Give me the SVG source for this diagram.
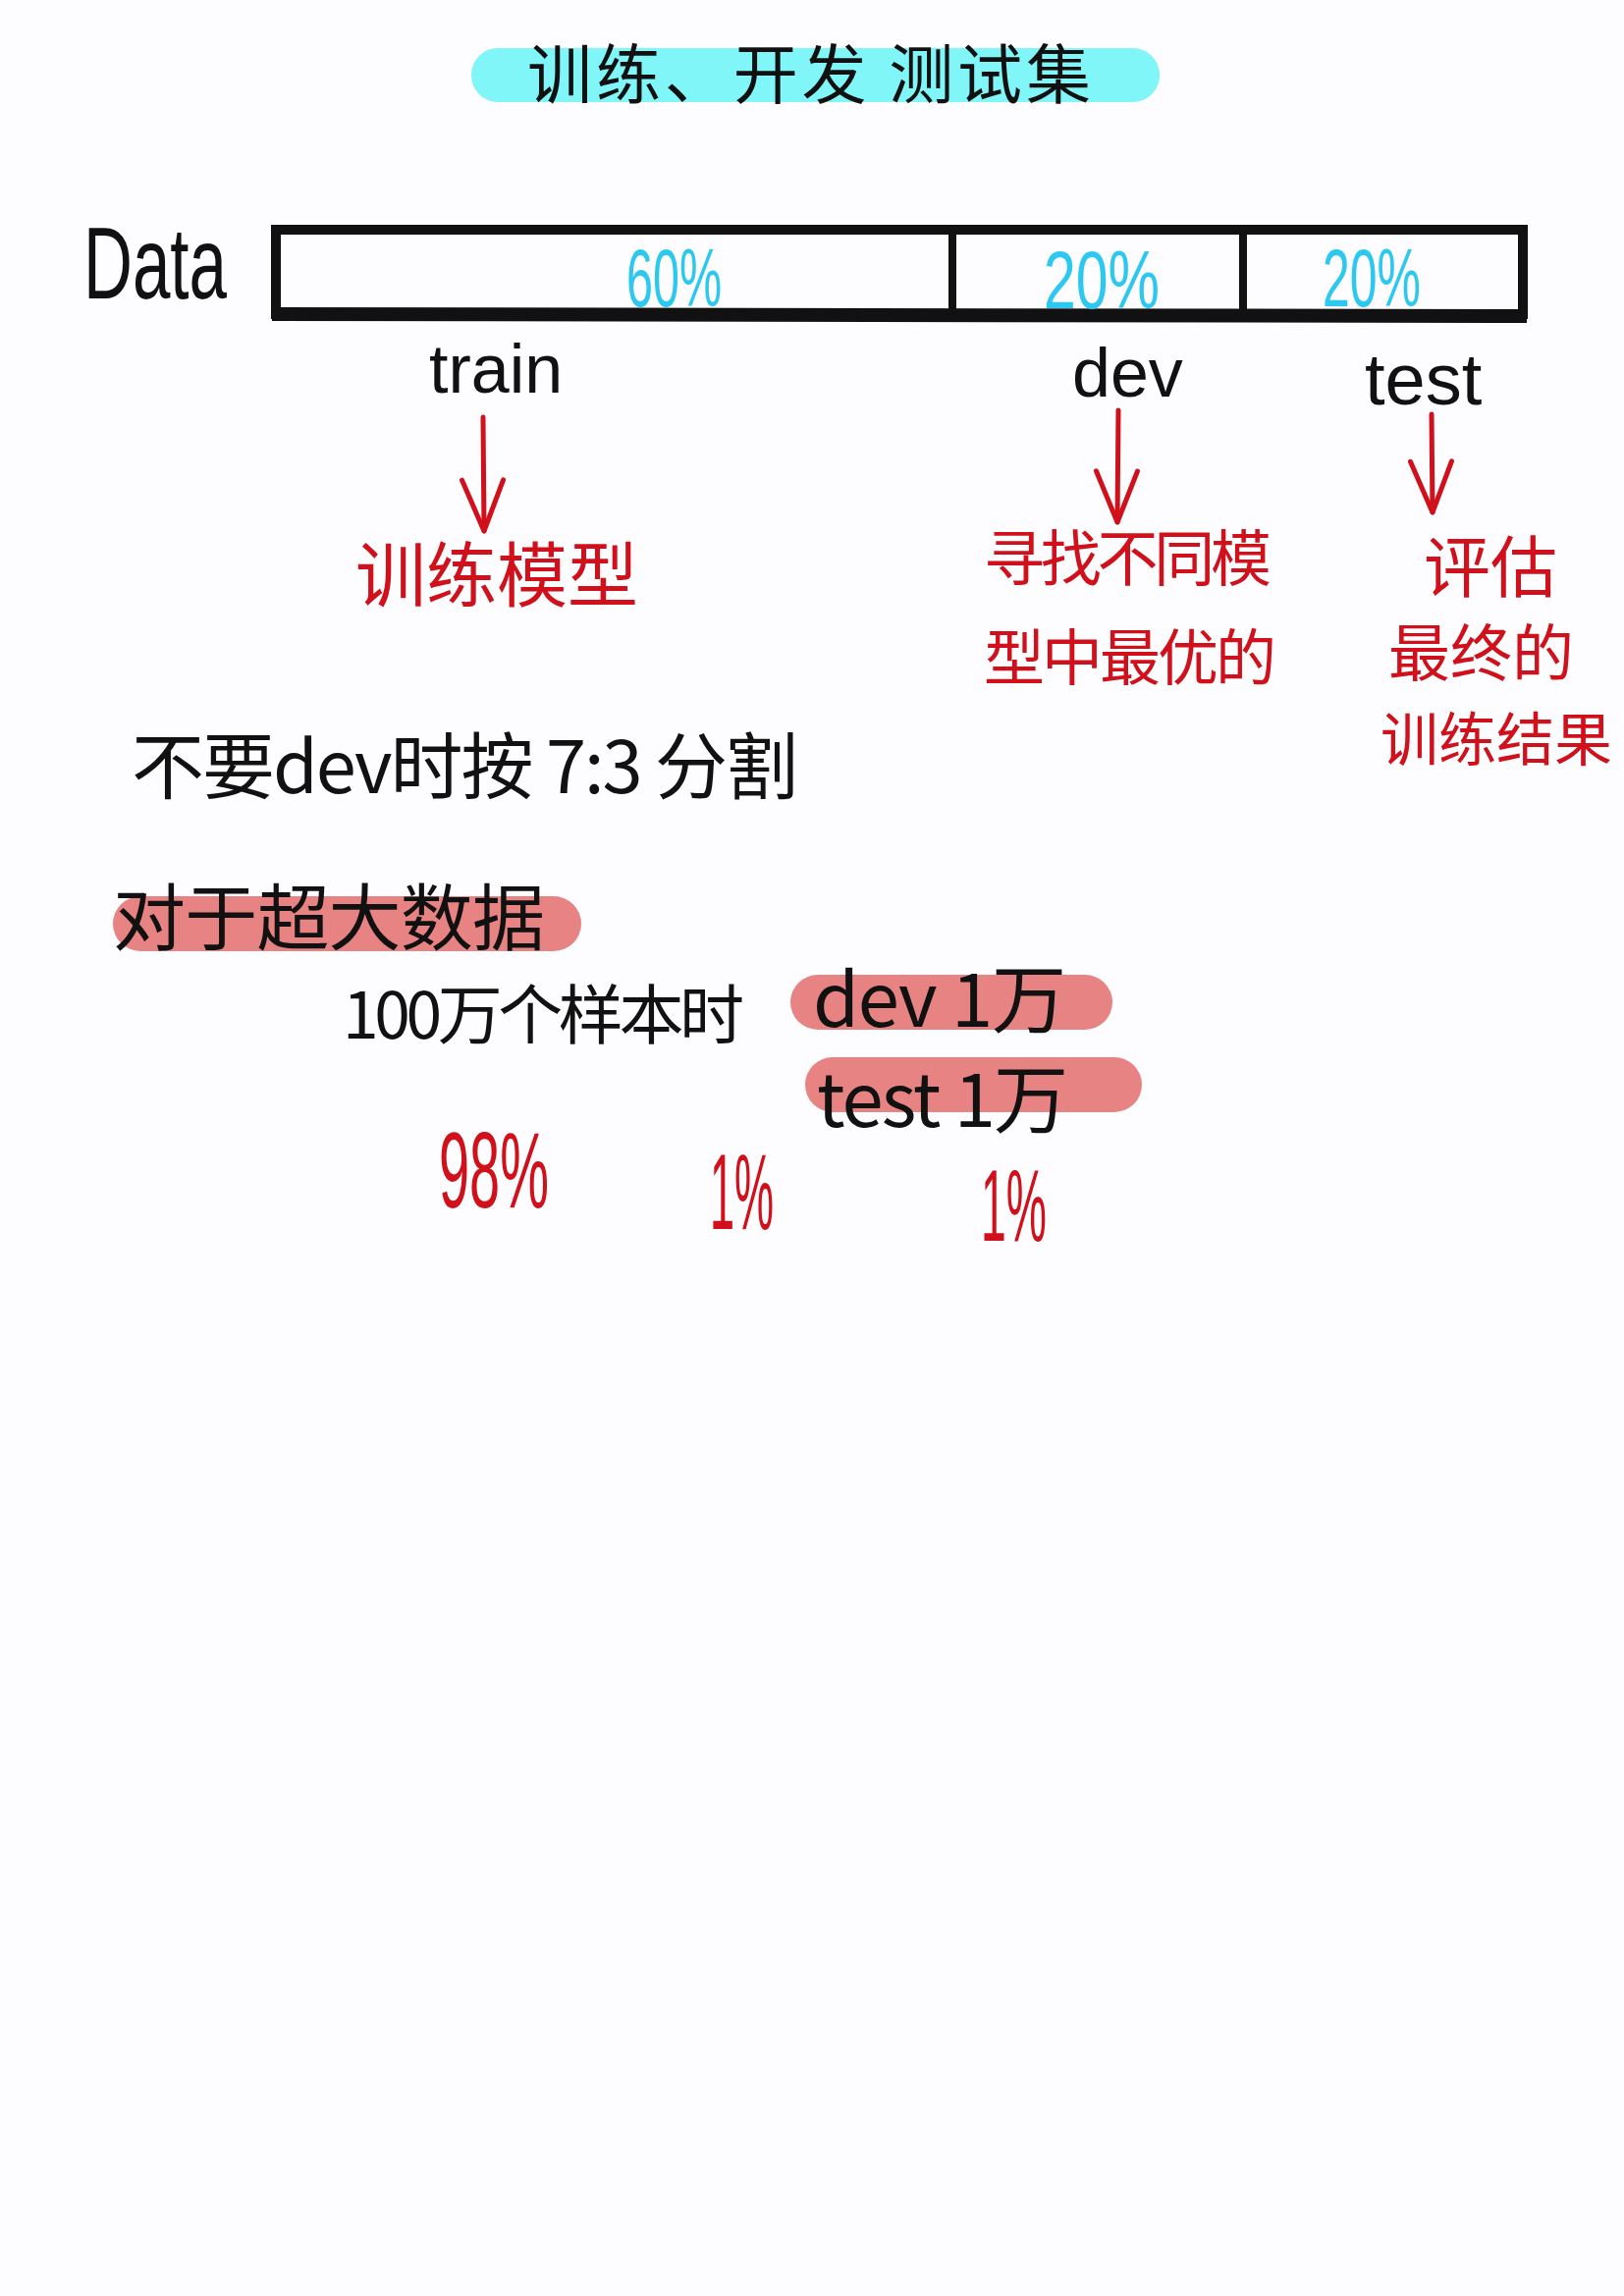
<svg xmlns="http://www.w3.org/2000/svg" width="1654" height="2339" viewBox="0 0 1654 2339">
<style>
.ink{fill:#111;font-family:"Liberation Sans","Noto Sans CJK SC",sans-serif}
.cjk{fill:#111;font-family:"Noto Sans CJK SC","Liberation Sans",sans-serif}
.red{fill:#d0101a;font-family:"Noto Sans CJK SC","Liberation Sans",sans-serif}
.blue{fill:#2cc8f0;font-family:"Liberation Sans",sans-serif}
.hl-cyan{fill:#80f6f8}
.hl-pink{fill:#e88383}
.arrow{stroke:#d0101a;stroke-width:5;fill:none;stroke-linecap:round;marker-end:url(#chev)}
</style>
<defs>
<marker id="chev" markerUnits="userSpaceOnUse" viewBox="-60 -30 70 60" refX="0" refY="0" markerWidth="70" markerHeight="60" orient="auto" overflow="visible">
<path d="M-52,-20 L0,0 L-52,22" fill="none" stroke="#d0101a" stroke-width="5" stroke-linecap="round" stroke-linejoin="round"/>
</marker>
</defs>
<rect x="0" y="0" width="1654" height="2339" fill="#fdfdff"/>

<g id="title">
<rect class="hl-cyan" x="480" y="49" width="701" height="55" rx="27"/>
<text class="cjk" x="537" y="100" font-size="66" textLength="574">训练、开发 测试集</text>
</g>

<g id="data-label">
<text class="ink" x="85" y="304" font-size="104" textLength="146" lengthAdjust="spacingAndGlyphs">Data</text>
</g>

<g id="data-bar">
<rect x="281" y="234" width="1270" height="86" fill="none" stroke="#111" stroke-width="10"/>
<line x1="277" y1="320" x2="1555" y2="322" stroke="#111" stroke-width="14"/>
<line x1="970" y1="234" x2="970" y2="322" stroke="#111" stroke-width="8"/>
<line x1="1266" y1="234" x2="1266" y2="328" stroke="#111" stroke-width="8"/>
<text class="blue" x="638" y="312" font-size="84" textLength="97" lengthAdjust="spacingAndGlyphs">60%</text>
<text class="blue" x="1063" y="314" font-size="84" textLength="118" lengthAdjust="spacingAndGlyphs">20%</text>
<text class="blue" x="1347" y="312" font-size="84" textLength="100" lengthAdjust="spacingAndGlyphs">20%</text>
</g>

<g id="train">
<text class="ink" x="437" y="400" font-size="70">train</text>
</g>
<g id="dev">
<text class="ink" x="1092" y="404" font-size="70">dev</text>
</g>
<g id="test">
<text class="ink" x="1390" y="412" font-size="74">test</text>
</g>

<g id="connectors">
<path class="arrow" d="M492,425 L493,541"/>
<path class="arrow" d="M1139,418 L1138,532"/>
<path class="arrow" d="M1458,422 L1459,522"/>
</g>

<g id="train-model">
<text class="red" x="362" y="612" font-size="72">训练模型</text>
</g>

<g id="dev-select">
<text class="red" x="1002" y="592" font-size="62" textLength="293">寻找不同模</text>
<text class="red" x="1002" y="693" font-size="62" textLength="298">型中最优的</text>
</g>

<g id="test-eval">
<text class="red" x="1450" y="603" font-size="68">评估</text>
<text class="red" x="1414" y="688" font-size="63">最终的</text>
<text class="red" x="1406" y="775" font-size="59">训练结果</text>
</g>

<g id="no-dev-note">
<text class="cjk" x="134" y="808" font-size="74" textLength="679">不要dev时按 7:3 分割</text>
</g>

<g id="big-data">
<rect class="hl-pink" x="115" y="913" width="477" height="56" rx="28"/>
<text class="cjk" x="115" y="962" font-size="74" textLength="440">对于超大数据</text>
</g>

<g id="million-samples">
<text class="cjk" x="349" y="1058" font-size="66" textLength="409">100万个样本时</text>
</g>

<g id="dev-10k">
<rect class="hl-pink" x="805" y="993" width="328" height="56" rx="28"/>
<text class="cjk" x="828" y="1046" font-size="76" textLength="258">dev 1万</text>
</g>

<g id="test-10k">
<rect class="hl-pink" x="820" y="1077" width="343" height="56" rx="28"/>
<text class="cjk" x="832" y="1148" font-size="76" textLength="256">test 1万</text>
</g>

<g id="pct-98">
<text class="red" style="font-family:'Liberation Sans',sans-serif" x="447" y="1230" font-size="110" textLength="112" lengthAdjust="spacingAndGlyphs">98%</text>
</g>
<g id="pct-1a">
<text class="red" style="font-family:'Liberation Sans',sans-serif" x="723" y="1252" font-size="110" textLength="65" lengthAdjust="spacingAndGlyphs">1%</text>
</g>
<g id="pct-1b">
<text class="red" style="font-family:'Liberation Sans',sans-serif" x="999" y="1264" font-size="104" textLength="67" lengthAdjust="spacingAndGlyphs">1%</text>
</g>
</svg>
